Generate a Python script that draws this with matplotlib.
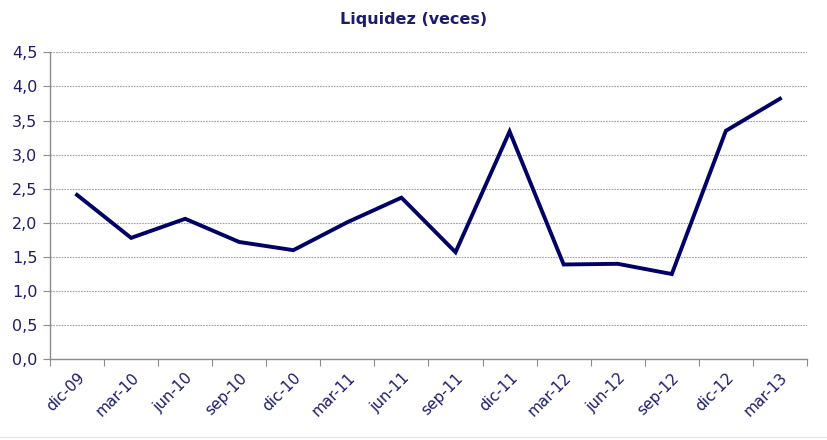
import matplotlib
matplotlib.use("Agg")
import matplotlib.pyplot as plt
import numpy as np
from matplotlib.ticker import FuncFormatter, FixedLocator

periods = ["dic-09", "mar-10", "jun-10", "sep-10", "dic-10", "mar-11", "jun-11",
           "sep-11", "dic-11", "mar-12", "jun-12", "sep-12", "dic-12", "mar-13"]
liquidez = [2.41, 1.78, 2.06, 1.72, 1.60, 2.01, 2.37,
            1.57, 3.34, 1.39, 1.40, 1.25, 3.35, 3.82]
y_ticks = [0.0, 0.5, 1.0, 1.5, 2.0, 2.5, 3.0, 3.5, 4.0, 4.5]

TEXT = "#1c1c6c"
LINE = "#000066"

fig = plt.figure(figsize=(8.28, 4.4), dpi=100)
ax = fig.add_axes([0.0604, 0.1834, 0.9142, 0.6976])

x = np.arange(len(periods))
ax.plot(x, liquidez, color=LINE, linewidth=2.8, solid_joinstyle="miter")

ax.set_xlim(-0.5, len(periods) - 0.5)
ax.set_ylim(0, 4.5)

# y axis
ax.set_yticks(y_ticks)
ax.yaxis.set_major_formatter(FuncFormatter(lambda v, _: f"{v:.1f}".replace(".", ",")))
ax.grid(axis="y", color="#a0a0a0", linestyle=(0, (1.5, 1)), linewidth=0.8)
ax.set_axisbelow(True)

# x axis: ticks at category boundaries, labels at centers
ax.xaxis.set_major_locator(FixedLocator(np.arange(-0.5, len(periods), 1.0)))
ax.xaxis.set_major_formatter(FuncFormatter(lambda v, _: ""))
ax.xaxis.set_minor_locator(FixedLocator(x))
ax.set_xticklabels(periods, minor=True, rotation=45, ha="right",
                   rotation_mode="anchor", color=TEXT, fontsize=11)
ax.tick_params(axis="x", which="minor", length=0, pad=8)
ax.tick_params(axis="x", which="major", length=5, color="#8c8c8c", direction="out")
ax.tick_params(axis="y", length=5, color="#8c8c8c", labelcolor=TEXT, labelsize=11.5, pad=4)

for side in ["top", "right"]:
    ax.spines[side].set_visible(False)
for side in ["left", "bottom"]:
    ax.spines[side].set_color("#8c8c8c")
    ax.spines[side].set_linewidth(1.0)

fig.text(0.5, 0.955, "Liquidez (veces)", ha="center", va="center",
         fontsize=11.5, fontweight="bold", color=TEXT)

# faint chart border at the bottom
fig.add_artist(plt.Line2D([0.0, 1.0], [0.006, 0.006], color="#e6e6e6", linewidth=1.0))

fig.savefig("out.png", dpi=100)
